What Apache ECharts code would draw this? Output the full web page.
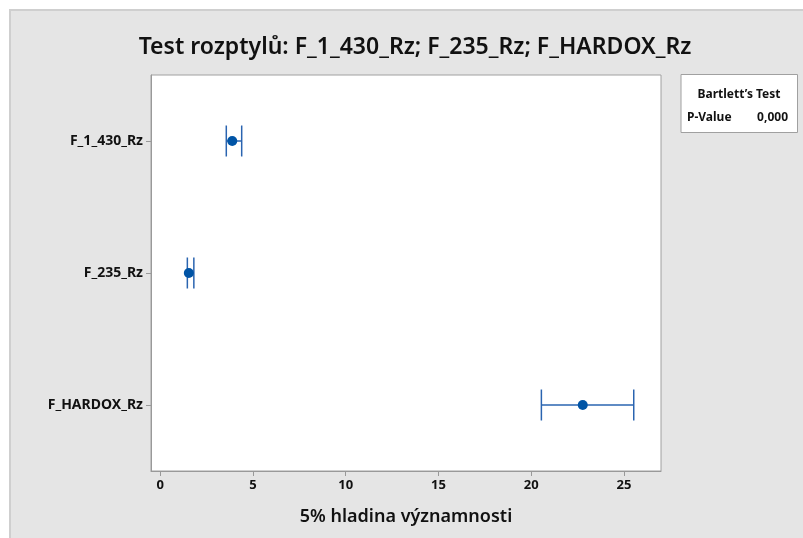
<!DOCTYPE html>
<html>
<head>
<meta charset="utf-8">
<script src="https://cdn.jsdelivr.net/npm/echarts@6/dist/echarts.min.js"></script>
<style>html,body{margin:0;padding:0;background:#fff}#c{width:803px;height:538px}</style>
</head>
<body>
<div id="c"></div>
<script>
const categories = ['F_1_430_Rz', 'F_235_Rz', 'F_HARDOX_Rz'];
const lower = [3.56, 1.46, 20.55];
const estimate = [3.88, 1.54, 22.78];
const upper = [4.39, 1.81, 25.53];
const xTicks = [0, 5, 10, 15, 20, 25];
const titleText = 'Test rozptylů: F_1_430_Rz; F_235_Rz; F_HARDOX_Rz';
const xName = '5% hladina významnosti';

const FONT = 'Noto Sans';
const BLUE = '#0054a6';
const LINE = '#2a64b0';

const chart = echarts.init(document.getElementById('c'));
const ciData = categories.map((c, i) => [lower[i], upper[i], i]);
const ptData = categories.map((c, i) => [estimate[i], i]);

chart.setOption({
  backgroundColor: '#ffffff',
  animation: false,
  graphic: [
    { type: 'rect', z: -10, shape: { x: 10, y: 10, width: 800, height: 540 },
      style: { fill: '#e5e5e5', stroke: '#cfcfcf', lineWidth: 2 } },
    { type: 'rect', z: 10, shape: { x: 681, y: 74.5, width: 116.5, height: 58 },
      style: { fill: '#ffffff', stroke: '#a0a0a0', lineWidth: 1 } },
    { type: 'text', z: 11, x: 739, y: 95, style: { text: "Bartlett\u2019s Test", font: 'bold 12px "Noto Sans"', fill: '#111', align: 'center', verticalAlign: 'middle' } },
    { type: 'text', z: 11, x: 687, y: 118, style: { text: 'P-Value', font: 'bold 12px "Noto Sans"', fill: '#111', align: 'left', verticalAlign: 'middle' } },
    { type: 'text', z: 11, x: 788, y: 118, style: { text: '0,000', font: 'bold 12px "Noto Sans"', fill: '#111', align: 'right', verticalAlign: 'middle' } }
  ],
  title: {
    text: titleText,
    left: 410, top: 31, textAlign: 'center',
    textStyle: { fontFamily: FONT, fontSize: 23, fontWeight: 600, color: '#111' }
  },
  grid: { left: 151, right: 142, top: 75, bottom: 67, show: true, backgroundColor: '#ffffff', borderColor: '#a0a0a0', borderWidth: 1 },
  xAxis: {
    type: 'value', min: -0.5, max: 27,
    name: xName, nameLocation: 'middle', nameGap: 37,
    nameTextStyle: { fontFamily: FONT, fontSize: 18, fontWeight: 600, color: '#111' },
    axisLine: { show: true, onZero: false, lineStyle: { color: '#999', width: 1 } },
    axisTick: { show: true, length: 5, customValues: xTicks, lineStyle: { color: '#999' } },
    axisLabel: { customValues: xTicks, fontFamily: FONT, fontSize: 13, fontWeight: 'bold', color: '#111', margin: 8 },
    splitLine: { show: false }
  },
  yAxis: {
    type: 'category', data: categories, inverse: true,
    axisLine: { show: true, onZero: false, lineStyle: { color: '#999', width: 1 } },
    axisTick: { show: true, alignWithLabel: true, length: 5, lineStyle: { color: '#999' } },
    axisLabel: { fontFamily: FONT, fontSize: 14, fontWeight: 'bold', color: '#111', margin: 8 },
    splitLine: { show: false }
  },
  series: [
    {
      type: 'custom', data: ciData, z: 2,
      encode: { x: [0, 1], y: 2 },
      renderItem: function (params, api) {
        const y = api.value(2);
        const p1 = api.coord([api.value(0), y]);
        const p2 = api.coord([api.value(1), y]);
        const h = 15.5;
        const st = { stroke: LINE, lineWidth: 1.5 };
        return { type: 'group', children: [
          { type: 'line', shape: { x1: p1[0], y1: p1[1], x2: p2[0], y2: p2[1] }, style: st },
          { type: 'line', shape: { x1: p1[0], y1: p1[1] - h, x2: p1[0], y2: p1[1] + h }, style: st },
          { type: 'line', shape: { x1: p2[0], y1: p2[1] - h, x2: p2[0], y2: p2[1] + h }, style: st }
        ] };
      }
    },
    {
      type: 'scatter', data: ptData, symbol: 'circle', symbolSize: 10, z: 3,
      itemStyle: { color: BLUE, opacity: 1 }
    }
  ]
});
</script>
</body>
</html>
